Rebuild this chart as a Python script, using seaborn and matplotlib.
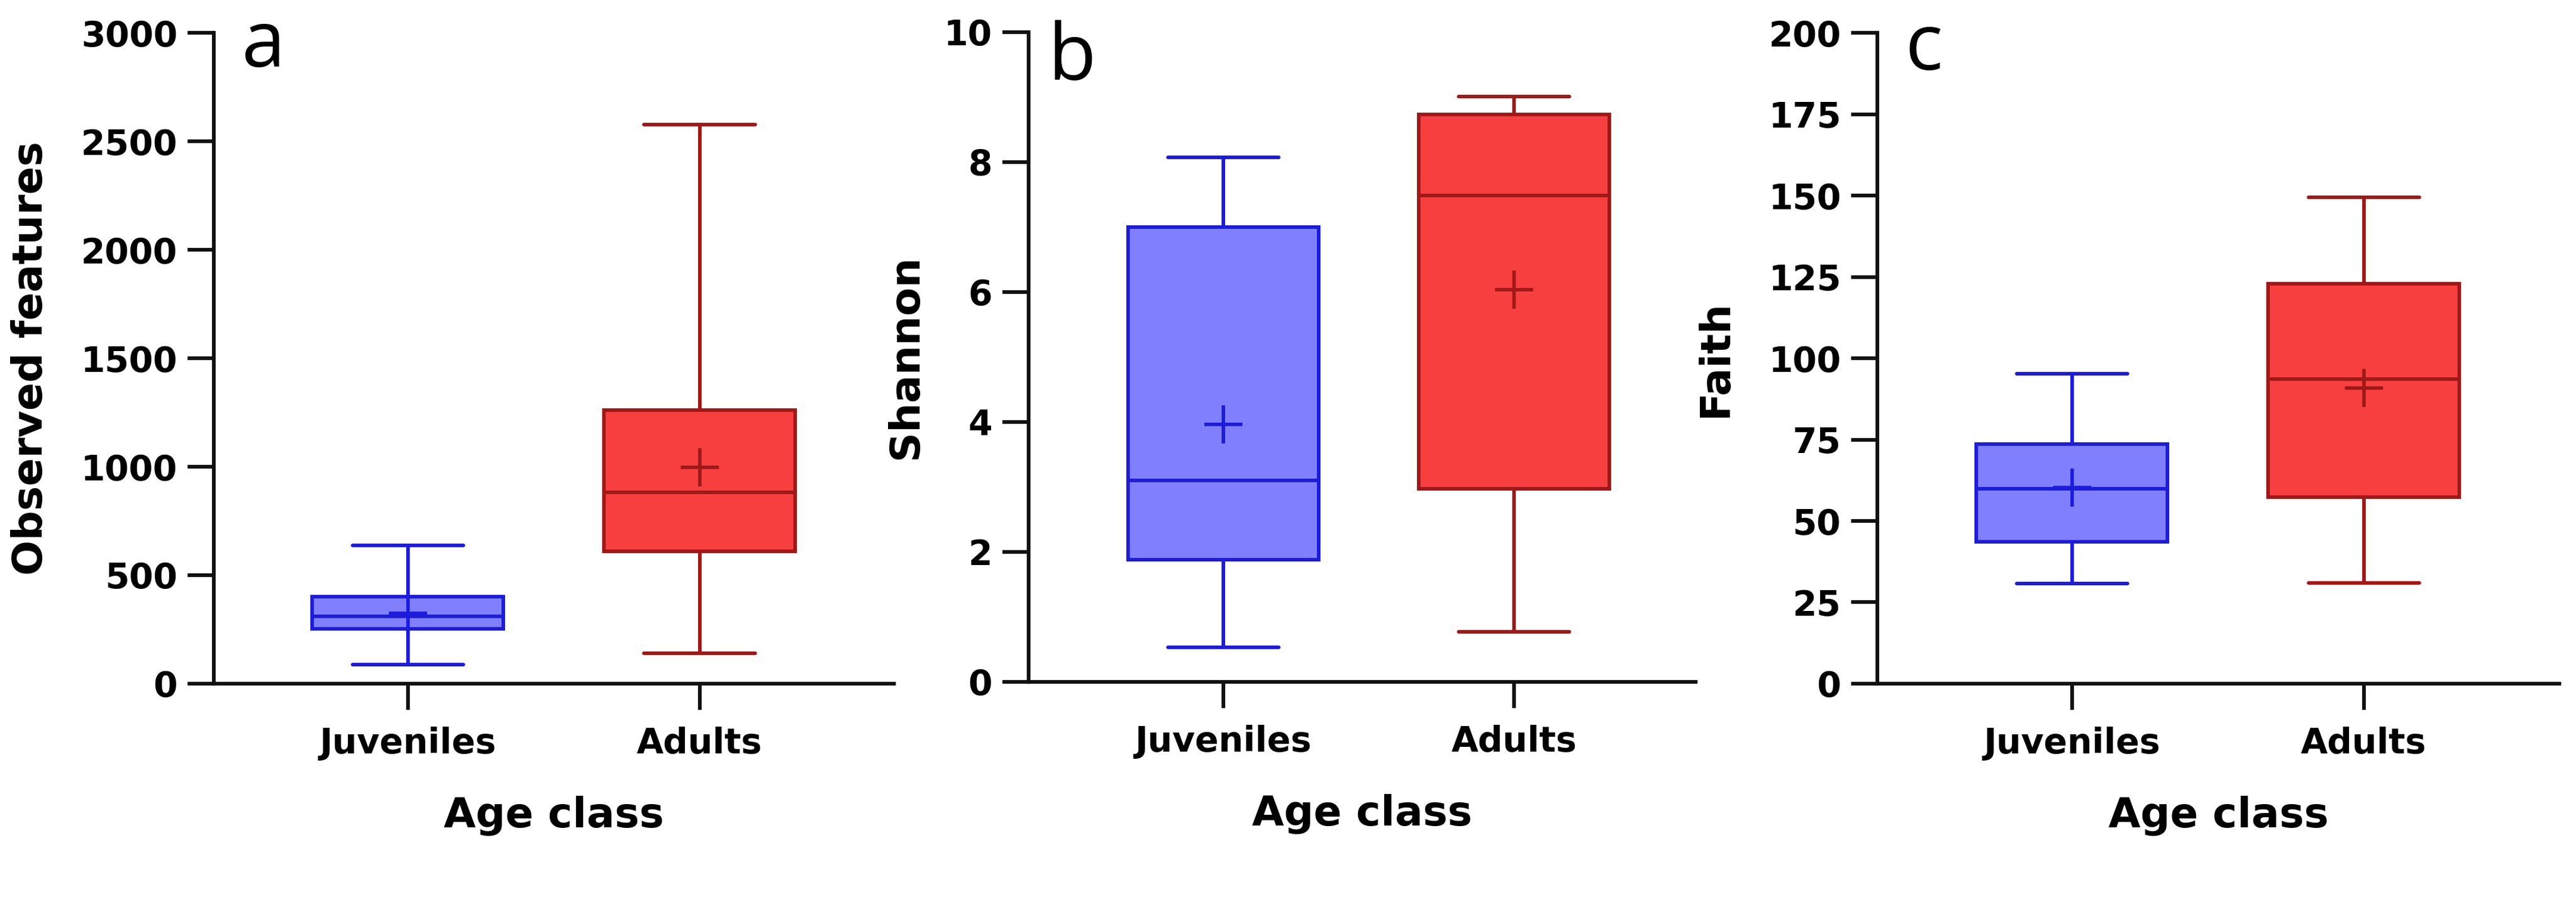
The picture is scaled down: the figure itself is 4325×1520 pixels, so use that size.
import matplotlib
matplotlib.use("Agg")
import matplotlib.pyplot as plt
import seaborn as sns
import pandas as pd

sns.set_theme(style="ticks")
plt.rcParams["font.family"] = ["DejaVu Sans"]
plt.rcParams["font.weight"] = "bold"
for key in ("text.color", "axes.labelcolor", "xtick.color", "ytick.color"):
    plt.rcParams[key] = "black"

# ---------------------------------------------------------------------------
# Data: min, Q1, median, Q3, max per age class (+ means)
# ---------------------------------------------------------------------------
age_classes = ["Juveniles", "Adults"]

observed_juveniles = [89, 254, 310, 402, 636]
observed_adults = [140, 610, 882, 1261, 2578]
observed_means = [325, 997]

shannon_juveniles = [0.53, 1.88, 3.10, 7.00, 8.07]
shannon_adults = [0.77, 2.97, 7.49, 8.73, 9.01]
shannon_means = [3.96, 6.04]

faith_juveniles = [30.8, 43.6, 59.8, 73.7, 95.3]
faith_adults = [31.0, 57.3, 93.6, 122.9, 149.5]
faith_means = [60.2, 90.8]

fill_colors = {"Juveniles": "#8080FF", "Adults": "#F73F3F"}
edge_colors = {"Juveniles": "#1C1CDC", "Adults": "#A01818"}

LW = 4.3


def draw_panel(ax, juveniles, adults, means, ylabel, yticks, letter,
               xlim, labelpad, letter_xy):
    df = pd.DataFrame({
        "age": [age_classes[0]] * len(juveniles) + [age_classes[1]] * len(adults),
        "value": juveniles + adults,
    })
    for age in age_classes:
        sns.boxplot(data=df[df["age"] == age], x="age", y="value",
                    order=age_classes, color=fill_colors[age],
                    linecolor=edge_colors[age], saturation=1, width=0.655,
                    whis=(0, 100), linewidth=LW, showfliers=False,
                    capwidths=0.38, ax=ax)
    sns.pointplot(x=age_classes, y=means, hue=age_classes, palette=edge_colors,
                  markers="+", linestyle="none", markersize=46,
                  markeredgewidth=4.2, errorbar=None, legend=False,
                  zorder=5, ax=ax)

    ax.set_ylim(yticks[0], yticks[-1])
    ax.set_yticks(yticks)
    ax.set_xlim(*xlim)
    sns.despine(ax=ax)
    for side in ("left", "bottom"):
        ax.spines[side].set_linewidth(4.5)
        ax.spines[side].set_color("#111111")
    ax.tick_params(axis="both", length=32, width=4.5, color="#111111",
                   labelsize=42, pad=12)
    ax.tick_params(axis="x", pad=20)
    ax.set_ylabel(ylabel, fontsize=50, fontweight="bold", labelpad=labelpad)
    ax.set_xlabel("Age class", fontsize=50, fontweight="bold", labelpad=42)
    ax.text(*letter_xy, letter, transform=ax.transAxes, fontsize=95,
            fontweight="normal", family="Open Sans", va="baseline", ha="left")


fig = plt.figure(figsize=(43.25, 15.2), dpi=100)
ax_a = fig.add_axes([0.0830, 0.2454, 0.2640, 0.7184])
ax_b = fig.add_axes([0.3993, 0.2474, 0.2590, 0.7171])
ax_c = fig.add_axes([0.7288, 0.2454, 0.2647, 0.7184])

draw_panel(ax_a, observed_juveniles, observed_adults, observed_means,
           "Observed features", list(range(0, 3001, 500)), "a",
           (-0.665, 1.666), 36, (0.041, 0.948))
draw_panel(ax_b, shannon_juveniles, shannon_adults, shannon_means,
           "Shannon", list(range(0, 11, 2)), "b",
           (-0.67, 1.625), 22, (0.029, 0.927))
draw_panel(ax_c, faith_juveniles, faith_adults, faith_means,
           "Faith", list(range(0, 201, 25)), "c",
           (-0.667, 1.67), 40, (0.041, 0.943))

fig.savefig("out.png", dpi=100, facecolor="white")
